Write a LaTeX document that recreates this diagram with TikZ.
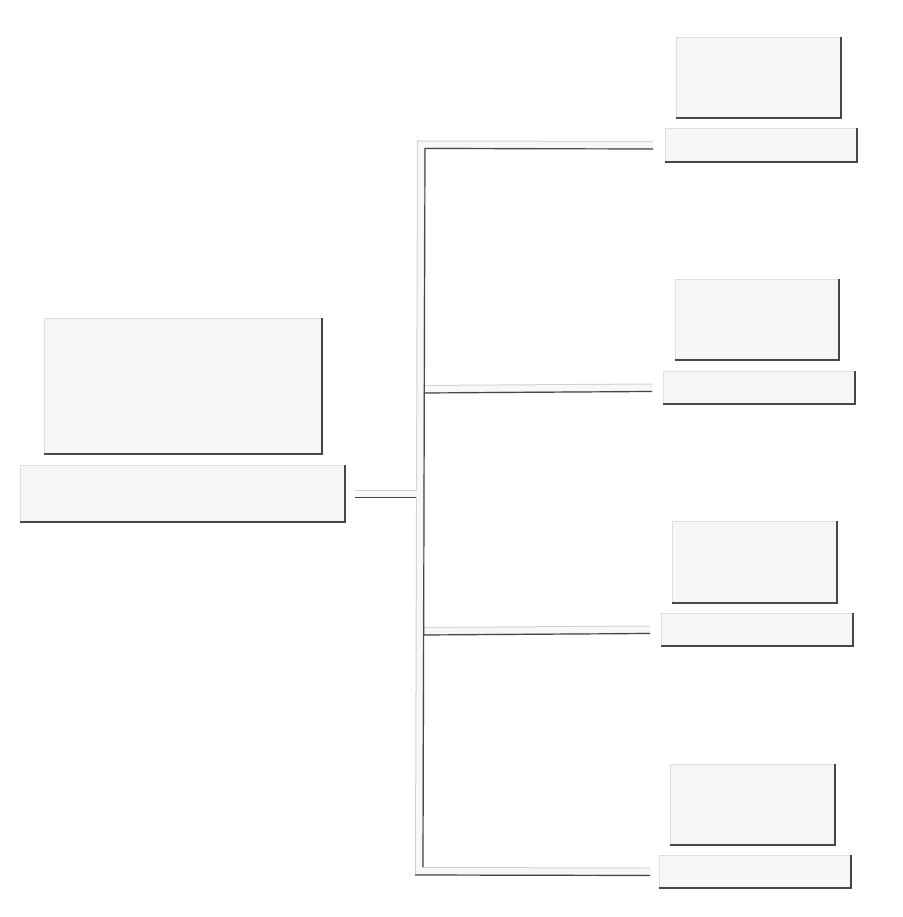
\documentclass[tikz,border=0pt]{standalone}
\begin{document}
\begin{tikzpicture}[x=1pt,y=-1pt,
  panel/.style={draw=gray!25, line width=0.6pt, fill=gray!7, inner sep=0pt, outer sep=0pt, minimum width=#1},
  panelshadow/.style={draw=black!72, line width=1.3pt},
  bandedge/.style={draw=gray!35, line width=8pt, line cap=butt, line join=miter},
  bandfill/.style={draw=gray!6, line width=6pt, line cap=butt, line join=miter},
  bandshadow/.style={draw=black!72, line width=1.2pt}]
\useasboundingbox[fill=white] (0,0) rectangle (902,917);
% main boxes
\node[panel=278pt, minimum height=136pt] (mainT) at (183,386) {};
\node[panel=325pt, minimum height=57pt] (mainB) at (182.5,493.5) {};
% right groups
\node[panel=165pt, minimum height=81pt] (t1) at (758.5,77.5) {};
\node[panel=192pt, minimum height=34pt] (b1) at (761,145) {};
\node[panel=164pt, minimum height=81pt] (t2) at (757,319.5) {};
\node[panel=192pt, minimum height=33pt] (b2) at (759,387.5) {};
\node[panel=165pt, minimum height=82pt] (t3) at (754.5,562) {};
\node[panel=192pt, minimum height=33pt] (b3) at (757,629.5) {};
\node[panel=165pt, minimum height=81pt] (t4) at (752.5,804.5) {};
\node[panel=192pt, minimum height=33pt] (b4) at (755,871.5) {};
\foreach \n in {mainT,mainB,t1,b1,t2,b2,t3,b3,t4,b4}
  \draw[panelshadow] (\n.north east) -- (\n.south east) -- (\n.south west);
% trunk corners
\coordinate (top) at (421,144.5);
\coordinate (bot) at (419,871);
\coordinate (mid2) at (420.4,389);
\coordinate (mid3) at (419.7,631);
\coordinate (midM) at (419.8,493.5);
\coordinate (e1) at ([xshift=-12pt]b1.west);
\coordinate (e2) at ([xshift=-11pt]b2.west);
\coordinate (e3) at ([xshift=-11pt]b3.west);
\coordinate (e4) at ([xshift=-9pt]b4.west);
\coordinate (sM) at ([xshift=10pt]mainB.east);
% connector bands
\foreach \s in {bandedge,bandfill} {
  \draw[\s] (e1) -- (top) -- (bot) -- (e4);
  \draw[\s] (mid2) -- (e2);
  \draw[\s] (mid3) -- (e3);
  \draw[\s] (sM) -- (midM);
}
% shadows of the bands
\draw[bandshadow] ([shift={(0,4)}]e1) -- ([shift={(4,4)}]top) -- ([shift={(4,-4)}]bot);
\draw[bandshadow] ([shift={(-4,4)}]bot) -- ([shift={(0,4)}]e4);
\draw[bandshadow] ([shift={(4,4)}]mid2) -- ([shift={(0,4)}]e2);
\draw[bandshadow] ([shift={(4,4)}]mid3) -- ([shift={(0,4)}]e3);
\draw[bandshadow] ([shift={(0,4)}]sM) -- ([shift={(-4,4)}]midM);
\end{tikzpicture}
\end{document}
